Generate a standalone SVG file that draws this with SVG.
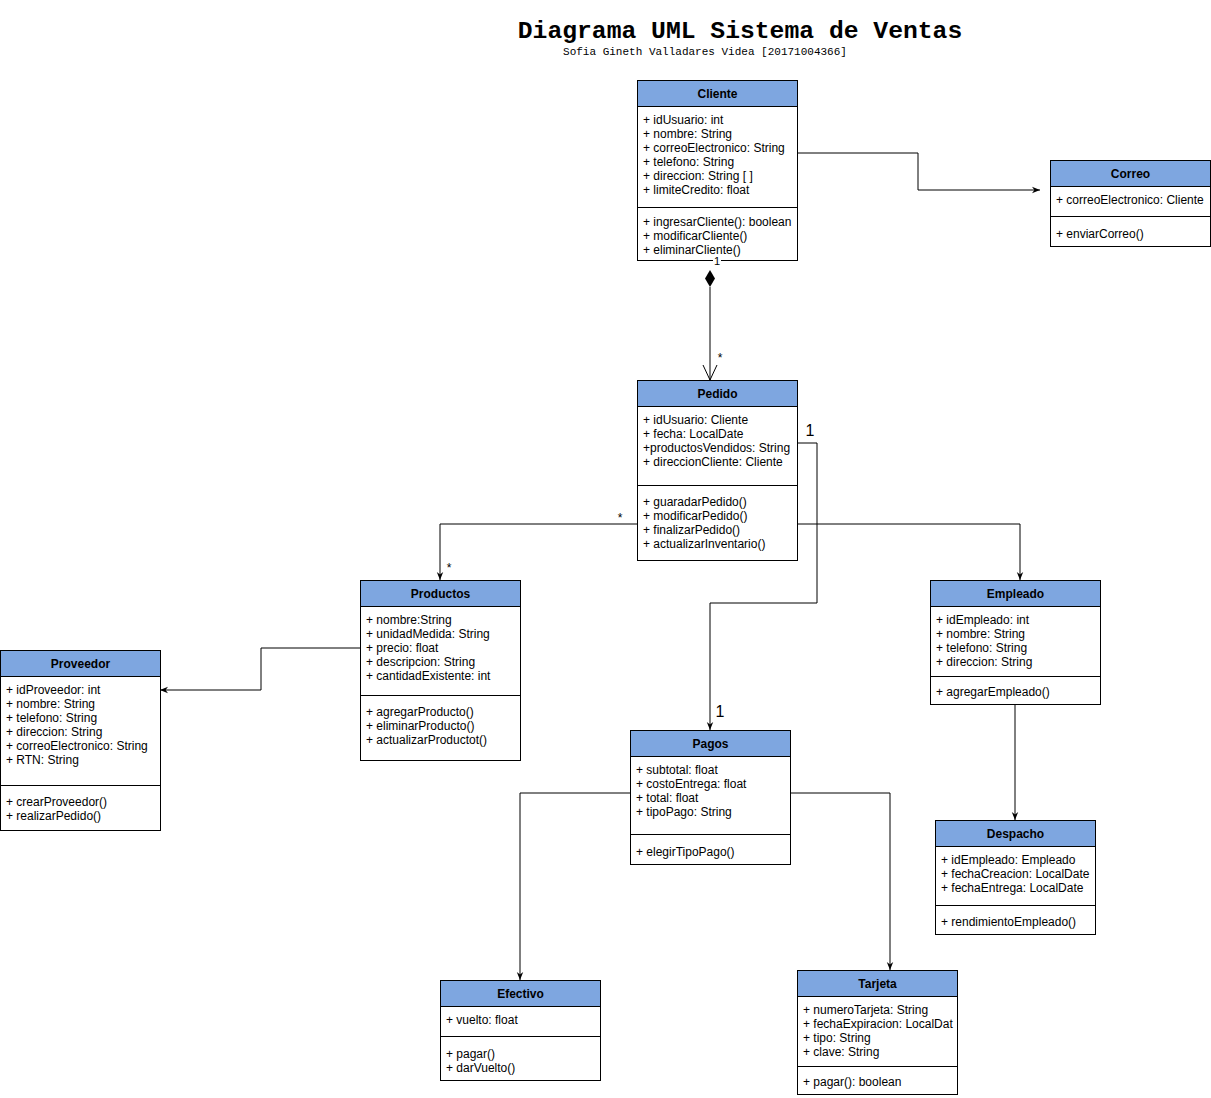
<svg xmlns="http://www.w3.org/2000/svg" width="1211" height="1098" viewBox="0 0 1211 1098">
<defs>
<style>
.box{fill:#ffffff;stroke:#000000;stroke-width:1}
.hdr{fill:#7EA6E0;stroke:#000000;stroke-width:1}
.sep{stroke:#000000;stroke-width:1}
.t{font-family:"Liberation Sans",Arial,sans-serif;font-size:12px;fill:#000000}
.h{font-family:"Liberation Sans",Arial,sans-serif;font-size:12px;font-weight:bold;fill:#000000;text-anchor:middle}
.ln{fill:none;stroke:#000000;stroke-width:1}
.lbl{font-family:"Liberation Sans",Arial,sans-serif;fill:#000000}
</style>
<marker id="arr" viewBox="0 0 10 10" refX="10" refY="5" markerWidth="8" markerHeight="8" markerUnits="userSpaceOnUse" orient="auto">
<path d="M0,1 L10,5 L0,9 L3,5 Z" fill="#000000"/>
</marker>
</defs>
<rect width="1211" height="1098" fill="#ffffff"/>
<text x="740" y="38" font-family="Liberation Mono,monospace" font-size="24.7" font-weight="bold" text-anchor="middle">Diagrama UML Sistema de Ventas</text>
<text x="705" y="55" font-family="Liberation Mono,monospace" font-size="11" text-anchor="middle">Sofia Gineth Valladares Videa [20171004366]</text>

<g id="Cliente">
<rect class="box" x="637.5" y="80.5" width="160" height="180"/>
<rect class="hdr" x="637.5" y="80.5" width="160" height="26"/>
<text class="h" x="717.5" y="98">Cliente</text>
<text class="t" x="643" y="124">+ idUsuario: int</text>
<text class="t" x="643" y="138">+ nombre: String</text>
<text class="t" x="643" y="152">+ correoElectronico: String</text>
<text class="t" x="643" y="166">+ telefono: String</text>
<text class="t" x="643" y="180">+ direccion: String [ ]</text>
<text class="t" x="643" y="194">+ limiteCredito: float</text>
<line class="sep" x1="637.5" y1="207.5" x2="797.5" y2="207.5"/>
<text class="t" x="643" y="226">+ ingresarCliente(): boolean</text>
<text class="t" x="643" y="240">+ modificarCliente()</text>
<text class="t" x="643" y="254">+ eliminarCliente()</text>
</g>

<g id="Correo">
<rect class="box" x="1050.5" y="160.5" width="160" height="86"/>
<rect class="hdr" x="1050.5" y="160.5" width="160" height="26"/>
<text class="h" x="1130.5" y="178">Correo</text>
<text class="t" x="1056" y="204">+ correoElectronico: Cliente</text>
<line class="sep" x1="1050.5" y1="216.5" x2="1210.5" y2="216.5"/>
<text class="t" x="1056" y="238">+ enviarCorreo()</text>
</g>

<g id="Pedido">
<rect class="box" x="637.5" y="380.5" width="160" height="180"/>
<rect class="hdr" x="637.5" y="380.5" width="160" height="26"/>
<text class="h" x="717.5" y="398">Pedido</text>
<text class="t" x="643" y="424">+ idUsuario: Cliente</text>
<text class="t" x="643" y="438">+ fecha: LocalDate</text>
<text class="t" x="643" y="452">+productosVendidos: String</text>
<text class="t" x="643" y="466">+ direccionCliente: Cliente</text>
<line class="sep" x1="637.5" y1="485.5" x2="797.5" y2="485.5"/>
<text class="t" x="643" y="506">+ guaradarPedido()</text>
<text class="t" x="643" y="520">+ modificarPedido()</text>
<text class="t" x="643" y="534">+ finalizarPedido()</text>
<text class="t" x="643" y="548">+ actualizarInventario()</text>
</g>

<g id="Productos">
<rect class="box" x="360.5" y="580.5" width="160" height="180"/>
<rect class="hdr" x="360.5" y="580.5" width="160" height="26"/>
<text class="h" x="440.5" y="598">Productos</text>
<text class="t" x="366" y="624">+ nombre:String</text>
<text class="t" x="366" y="638">+ unidadMedida: String</text>
<text class="t" x="366" y="652">+ precio: float</text>
<text class="t" x="366" y="666">+ descripcion: String</text>
<text class="t" x="366" y="680">+ cantidadExistente: int</text>
<line class="sep" x1="360.5" y1="695.5" x2="520.5" y2="695.5"/>
<text class="t" x="366" y="716">+ agregarProducto()</text>
<text class="t" x="366" y="730">+ eliminarProducto()</text>
<text class="t" x="366" y="744">+ actualizarProductot()</text>
</g>

<g id="Proveedor">
<rect class="box" x="0.5" y="650.5" width="160" height="180"/>
<rect class="hdr" x="0.5" y="650.5" width="160" height="26"/>
<text class="h" x="80.5" y="668">Proveedor</text>
<text class="t" x="6" y="694">+ idProveedor: int</text>
<text class="t" x="6" y="708">+ nombre: String</text>
<text class="t" x="6" y="722">+ telefono:  String</text>
<text class="t" x="6" y="736">+ direccion: String</text>
<text class="t" x="6" y="750">+ correoElectronico: String</text>
<text class="t" x="6" y="764">+ RTN: String</text>
<line class="sep" x1="0.5" y1="785.5" x2="160.5" y2="785.5"/>
<text class="t" x="6" y="806">+ crearProveedor()</text>
<text class="t" x="6" y="820">+ realizarPedido()</text>
</g>

<g id="Empleado">
<rect class="box" x="930.5" y="580.5" width="170" height="124"/>
<rect class="hdr" x="930.5" y="580.5" width="170" height="26"/>
<text class="h" x="1015.5" y="598">Empleado</text>
<text class="t" x="936" y="624">+ idEmpleado: int</text>
<text class="t" x="936" y="638">+ nombre: String</text>
<text class="t" x="936" y="652">+ telefono: String</text>
<text class="t" x="936" y="666">+ direccion: String</text>
<line class="sep" x1="930.5" y1="676.5" x2="1100.5" y2="676.5"/>
<text class="t" x="936" y="696">+ agregarEmpleado()</text>
</g>

<g id="Pagos">
<rect class="box" x="630.5" y="730.5" width="160" height="134"/>
<rect class="hdr" x="630.5" y="730.5" width="160" height="26"/>
<text class="h" x="710.5" y="748">Pagos</text>
<text class="t" x="636" y="774">+ subtotal: float</text>
<text class="t" x="636" y="788">+ costoEntrega: float</text>
<text class="t" x="636" y="802">+ total: float</text>
<text class="t" x="636" y="816">+ tipoPago: String</text>
<line class="sep" x1="630.5" y1="834.5" x2="790.5" y2="834.5"/>
<text class="t" x="636" y="856">+ elegirTipoPago()</text>
</g>

<g id="Despacho">
<rect class="box" x="935.5" y="820.5" width="160" height="114"/>
<rect class="hdr" x="935.5" y="820.5" width="160" height="26"/>
<text class="h" x="1015.5" y="838">Despacho</text>
<text class="t" x="941" y="864">+ idEmpleado: Empleado</text>
<text class="t" x="941" y="878">+ fechaCreacion: LocalDate</text>
<text class="t" x="941" y="892">+ fechaEntrega: LocalDate</text>
<line class="sep" x1="935.5" y1="905.5" x2="1095.5" y2="905.5"/>
<text class="t" x="941" y="926">+ rendimientoEmpleado()</text>
</g>

<g id="Efectivo">
<rect class="box" x="440.5" y="980.5" width="160" height="100"/>
<rect class="hdr" x="440.5" y="980.5" width="160" height="26"/>
<text class="h" x="520.5" y="998">Efectivo</text>
<text class="t" x="446" y="1024">+ vuelto: float</text>
<line class="sep" x1="440.5" y1="1036.5" x2="600.5" y2="1036.5"/>
<text class="t" x="446" y="1058">+ pagar()</text>
<text class="t" x="446" y="1072">+ darVuelto()</text>
</g>

<g id="Tarjeta">
<rect class="box" x="797.5" y="970.5" width="160" height="124"/>
<rect class="hdr" x="797.5" y="970.5" width="160" height="26"/>
<text class="h" x="877.5" y="988">Tarjeta</text>
<text class="t" x="803" y="1014">+ numeroTarjeta: String</text>
<text class="t" x="803" y="1028">+ fechaExpiracion: LocalDat</text>
<text class="t" x="803" y="1042">+ tipo: String</text>
<text class="t" x="803" y="1056">+ clave: String</text>
<line class="sep" x1="797.5" y1="1066.5" x2="957.5" y2="1066.5"/>
<text class="t" x="803" y="1086">+ pagar(): boolean</text>
</g>

<g id="connectors">
<path class="ln" d="M797,153 H918 V190 H1040" marker-end="url(#arr)"/>
<path class="ln" d="M710,287 V380"/>
<path d="M710,270 L715,278.5 L710,287 L705,278.5 Z" fill="#000"/>
<path class="ln" d="M703,365 L710,380 L717,365"/>
<path class="ln" d="M637,524 H440 V580" marker-end="url(#arr)"/>
<path class="ln" d="M797,524 H1020 V580" marker-end="url(#arr)"/>
<path class="ln" d="M797,443 H817 V603 H710 V730" marker-end="url(#arr)"/>
<path class="ln" d="M360,648 H261 V690 H160" marker-end="url(#arr)"/>
<path class="ln" d="M1015,704 V820" marker-end="url(#arr)"/>
<path class="ln" d="M630,793 H520 V980" marker-end="url(#arr)"/>
<path class="ln" d="M790,793 H890 V970" marker-end="url(#arr)"/>
<rect x="713" y="256" width="8" height="10" fill="#ffffff"/>
<text class="lbl" x="717" y="265" font-size="11" text-anchor="middle">1</text>
<text class="lbl" x="720" y="362" font-size="12" text-anchor="middle">*</text>
<text class="lbl" x="620" y="522" font-size="12" text-anchor="middle">*</text>
<text class="lbl" x="449" y="572" font-size="12" text-anchor="middle">*</text>
<text class="lbl" x="810" y="436" font-size="16" text-anchor="middle">1</text>
<text class="lbl" x="720" y="717" font-size="16" text-anchor="middle">1</text>
</g>
</svg>
